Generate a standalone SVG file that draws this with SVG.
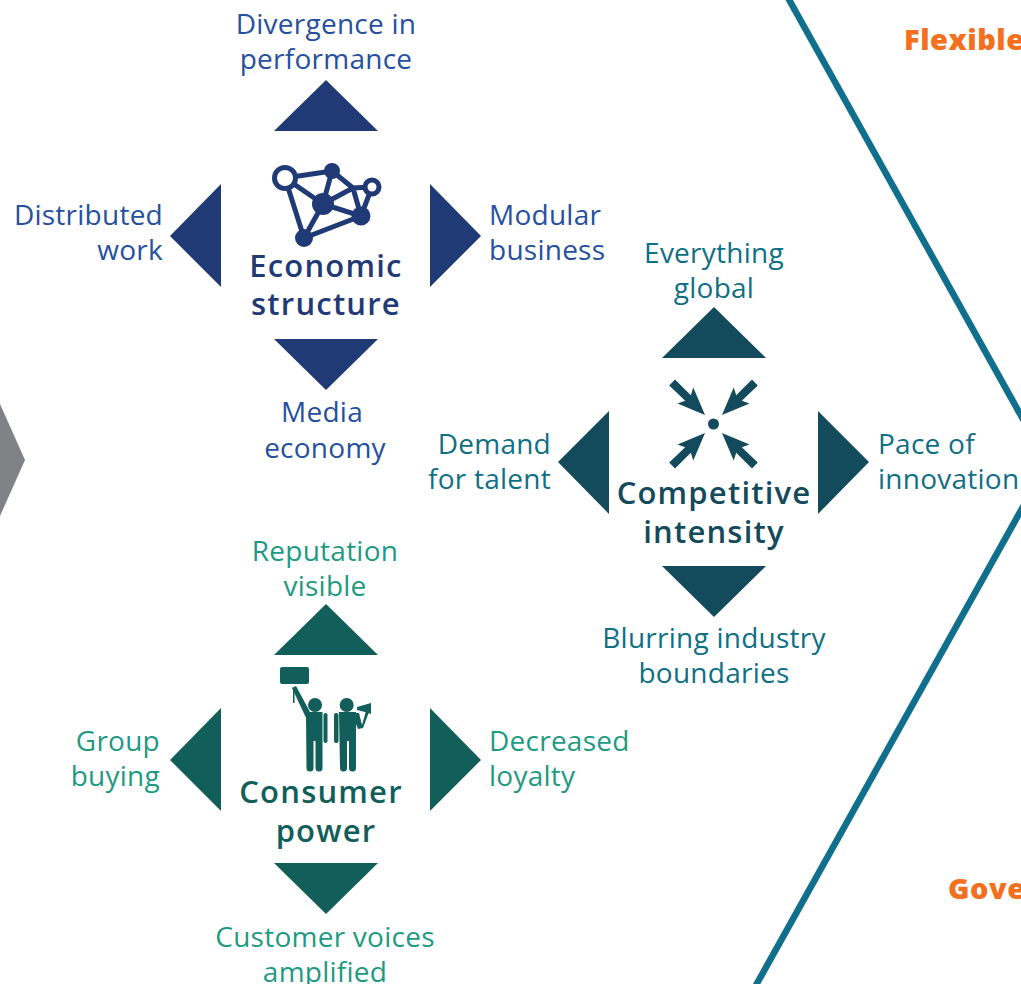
<svg xmlns="http://www.w3.org/2000/svg" width="1021" height="984" viewBox="0 0 1021 984">
<style>
text{font-family:"Open Sans","Liberation Sans",sans-serif;font-size:28px;letter-spacing:.25px}
.m{text-anchor:middle}.e{text-anchor:end}
.t{font-family:"Open Sans","Liberation Sans",sans-serif;font-size:31px;font-weight:600;text-anchor:middle;letter-spacing:1.200px}
.o{font-family:"Open Sans","Liberation Sans",sans-serif;font-size:29px;font-weight:800;fill:#f37021;letter-spacing:.5px}
.be{fill:#2650a0}.de{fill:#1f3a75}
.bc{fill:#0f6f85}.dc{fill:#134a5c}
.bp{fill:#1f9a82}.dp{fill:#115e5a}
</style>
<rect width="1021" height="984" fill="#fff"/>
<g id="connectors" fill="none" stroke="#0f6f8c" stroke-width="6.500">
<path d="M787 -4L1024 421"/>
<path d="M1024 505L755 987"/>
</g>
<g id="chevron"><polygon points="0,404 25,460 0,516" fill="#808285"/></g>
<g id="flexible"><text class="o" x="904" y="50">Flexible</text></g>
<g id="gove"><text class="o" x="948" y="899">Gove</text></g>
<g id="economic">
<polygon class="de" points="326,80 274,131 378,131"/>
<polygon class="de" points="221,184 221,287 170,236"/>
<polygon class="de" points="430,184 430,287 481,236"/>
<polygon class="de" points="274,339 378,339 326,390"/>
<g fill="none" stroke="#1f3a75" stroke-width="5">
<path d="M285 178L332 171L323 204L285 178L304 238L323 204L361 216L304 238M332 171L353 188L361 216M323 204L353 188L372 187L361 216"/>
<circle cx="285" cy="178" r="10.500" fill="#fff"/>
<circle cx="372" cy="187" r="7" fill="#fff"/>
</g>
<g class="de"><circle cx="332" cy="171" r="8"/><circle cx="323" cy="204" r="11"/><circle cx="361" cy="216" r="9.500"/><circle cx="304" cy="238" r="9"/></g>
<text class="t de" x="326" y="277">Economic</text>
<text class="t de" x="326" y="315">structure</text>
<text class="m be" x="326" y="34">Divergence in</text>
<text class="m be" x="326" y="69">performance</text>
<text class="e be" x="163" y="225">Distributed</text>
<text class="e be" x="163" y="260">work</text>
<text class="be" x="489" y="225">Modular</text>
<text class="be" x="489" y="260">business</text>
<text class="m be" x="322" y="422">Media</text>
<text class="m be" x="325" y="458">economy</text>
</g>
<g id="competitive">
<polygon class="dc" points="714,307 662,358 766,358"/>
<polygon class="dc" points="609,411 609,514 558,462"/>
<polygon class="dc" points="818,411 818,514 869,462"/>
<polygon class="dc" points="662,566 766,566 714,617"/>
<circle class="dc" cx="713.500" cy="424" r="5.500"/>
<path id="arrow" class="dc" d="M705 415L693.300 387.500L690.800 395.200L675 379.500L669.200 385.500L685.200 400.800L677.500 403.500Z"/>
<path class="dc" transform="matrix(-1 0 0 1 1427 0)" d="M705 415L693.300 387.500L690.800 395.200L675 379.500L669.200 385.500L685.200 400.800L677.500 403.500Z"/>
<path class="dc" transform="matrix(1 0 0 -1 0 848)" d="M705 415L693.300 387.500L690.800 395.200L675 379.500L669.200 385.500L685.200 400.800L677.500 403.500Z"/>
<path class="dc" transform="matrix(-1 0 0 -1 1427 848)" d="M705 415L693.300 387.500L690.800 395.200L675 379.500L669.200 385.500L685.200 400.800L677.500 403.500Z"/>
<text class="t dc" x="714" y="504">Competitive</text>
<text class="t dc" x="714" y="543">intensity</text>
<text class="m bc" x="714" y="263">Everything</text>
<text class="m bc" x="714" y="298">global</text>
<text class="e bc" x="551" y="454">Demand</text>
<text class="e bc" x="551" y="489">for talent</text>
<text class="bc" x="878" y="454">Pace of</text>
<text class="bc" x="878" y="489">innovation</text>
<text class="m bc" x="714" y="648">Blurring industry</text>
<text class="m bc" x="714" y="683">boundaries</text>
</g>
<g id="consumer">
<polygon class="dp" points="326,604 274,655 378,655"/>
<polygon class="dp" points="221,708 221,811 170,760"/>
<polygon class="dp" points="430,708 430,811 481,760"/>
<polygon class="dp" points="274,863 378,863 326,914"/>
<g class="dp">
<rect x="280" y="667" width="29" height="17" rx="2"/>
<rect x="293" y="687" width="1.500" height="16"/>
<polygon points="292,688 296,686 310,712 308,722"/>
<circle cx="315" cy="705" r="7"/>
<path d="M306 712H322.500V768a3.500 3.500 0 0 1-7 0V741H313.500V768a3.500 3.500 0 0 1-7 0Z"/>
<rect x="323.500" y="713" width="4" height="30" rx="2"/>
<circle cx="346.700" cy="705" r="7"/>
<path d="M339 712H356V768a3.500 3.500 0 0 1-7 0V741H347V768a3.500 3.500 0 0 1-7 0Z"/>
<rect x="334" y="713" width="4.500" height="30" rx="2"/>
<polygon points="356,713 359,713 362,725 366,711 369,712 363,728 358,729 356,724"/>
<polygon points="357,707 371,703 371,714 365,712 357,710"/>
</g>
<text class="t dp" x="321" y="803">Consumer</text>
<text class="t dp" x="326" y="842">power</text>
<text class="m bp" x="325" y="561">Reputation</text>
<text class="m bp" x="325" y="596">visible</text>
<text class="e bp" x="160" y="751">Group</text>
<text class="e bp" x="160" y="786">buying</text>
<text class="bp" x="489" y="751">Decreased</text>
<text class="bp" x="489" y="786">loyalty</text>
<text class="m bp" x="325" y="947">Customer voices</text>
<text class="m bp" x="325" y="982">amplified</text>
</g>
</svg>
